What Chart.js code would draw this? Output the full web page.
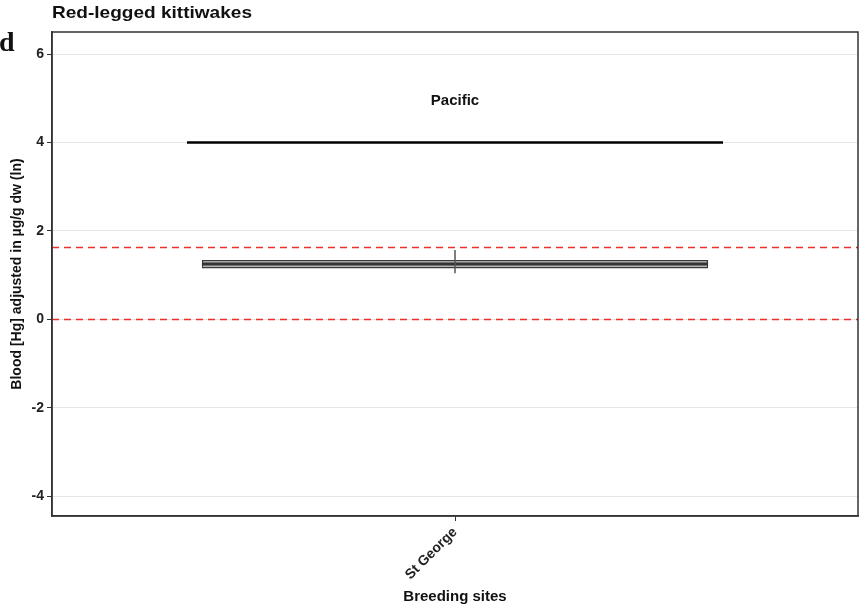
<!DOCTYPE html>
<html>
<head>
<meta charset="utf-8">
<script src="https://cdn.jsdelivr.net/npm/chart.js@4"></script>
<style>
  body { margin: 0; background: #fff; }
  canvas { display: block; }
</style>
</head>
<body>
<canvas id="myChart" width="866" height="604"></canvas>
<script>
const sites = ["St George"];
const boxLow = [1.15];
const boxHigh = [1.34];
const medians = [1.25];
const whiskerLow = [1.04];
const whiskerHigh = [1.57];
const refLines = [0, 1.63];
const regionLabel = "Pacific";
const regionLineY = 4;
const regionLabelY = 4.95;
const yTicks = [-4, -2, 0, 2, 4, 6];

const ctx = document.getElementById("myChart");
const font = "Arial, 'Liberation Sans', sans-serif";

const boxExtras = {
	id: "boxExtras",
	beforeDatasetsDraw(chart) {
		const c = chart.ctx;
		const y = chart.scales.y;
		const area = chart.chartArea;
		c.save();
		// dashed reference lines
		c.strokeStyle = "#e8302e";
		c.lineWidth = 1.6;
		c.setLineDash([7, 5]);
		refLines.forEach((v) => {
			const py = Math.round(y.getPixelForValue(v)) + 0.5;
			c.beginPath();
			c.moveTo(area.left, py);
			c.lineTo(area.right, py);
			c.stroke();
		});
		c.restore();
	},
	afterDatasetsDraw(chart) {
		const c = chart.ctx;
		const x = chart.scales.x;
		const y = chart.scales.y;
		const area = chart.chartArea;
		c.save();
		const meta = chart.getDatasetMeta(0);
		meta.data.forEach((bar, i) => {
			const half = bar.width / 2;
			const py = y.getPixelForValue(medians[i]);
			c.strokeStyle = "#333";
			c.lineWidth = 3;
			c.beginPath();
			c.moveTo(bar.x - half, py);
			c.lineTo(bar.x + half, py);
			c.stroke();
			c.strokeStyle = "#555";
			c.lineWidth = 1.5;
			c.beginPath();
			c.moveTo(bar.x, y.getPixelForValue(whiskerHigh[i]));
			c.lineTo(bar.x, y.getPixelForValue(whiskerLow[i]));
			c.stroke();
		});
		// region bracket + label
		const cw = area.right - area.left;
		const cx = x.getPixelForValue(0);
		const ly = y.getPixelForValue(regionLineY);
		c.strokeStyle = "#000";
		c.lineWidth = 2.5;
		c.beginPath();
		c.moveTo(cx - cw * 0.3325, ly);
		c.lineTo(cx + cw * 0.3325, ly);
		c.stroke();
		c.fillStyle = "#111";
		c.font = "bold 15px " + font;
		c.textAlign = "center";
		c.textBaseline = "middle";
		c.fillText(regionLabel, cx, y.getPixelForValue(regionLabelY));
		// panel border
		c.strokeStyle = "#333";
		c.lineWidth = 1.5;
		c.strokeRect(area.left, area.top, cw, area.bottom - area.top);
		c.restore();
	},
	afterDraw(chart) {
		const c = chart.ctx;
		c.save();
		c.fillStyle = "#111";
		c.textAlign = "left";
		c.textBaseline = "middle";
		c.translate(52, 13);
		c.scale(1.12, 1);
		c.font = "bold 17px " + font;
		c.fillText("Red-legged kittiwakes", 0, 0);
		c.restore();
		c.save();
		c.fillStyle = "#111";
		c.font = "bold 28px 'Liberation Serif', 'DejaVu Serif', serif";
		c.textBaseline = "alphabetic";
		c.fillText("d", -1, 51);
		c.restore();
	},
};

new Chart(ctx, {
	type: "bar",
	data: {
		labels: sites,
		datasets: [
			{
				data: sites.map((s, i) => [boxLow[i], boxHigh[i]]),
				backgroundColor: "#b4b4b4",
				borderColor: "#3a3a3a",
				borderWidth: 1.5,
				borderSkipped: false,
				barPercentage: 0.628,
				categoryPercentage: 1,
			},
		],
	},
	options: {
		responsive: false,
		animation: false,
		layout: { padding: { top: 32, right: 8, left: 0, bottom: 0 } },
		plugins: {
			legend: { display: false },
			tooltip: { enabled: false },
		},
		scales: {
			x: {
				grid: { display: true, drawOnChartArea: false, offset: false, tickLength: 5, tickColor: "#333" },
				border: { color: "#333", width: 1.5 },
				ticks: {
					minRotation: 45,
					maxRotation: 45,
					color: "#222",
					font: { family: font, size: 14, weight: "bold" },
				},
				title: {
					display: true,
					text: "Breeding sites",
					color: "#111",
					font: { family: font, size: 15, weight: "bold", lineHeight: 1 },
					padding: { top: 0, bottom: 0 },
				},
				afterFit(scale) {
					scale.height = 88;
				},
			},
			y: {
				min: -4.45,
				max: 6.5,
				afterBuildTicks(scale) {
					scale.ticks = yTicks.map((v) => ({ value: v }));
				},
				grid: { color: "#e6e6e6", lineWidth: 1, tickLength: 5, tickColor: "#333" },
				border: { color: "#333", width: 1.5 },
				ticks: {
					color: "#222",
					padding: 3,
					font: { family: font, size: 14, weight: "bold" },
				},
				title: {
					display: true,
					text: "Blood [Hg] adjusted in µg/g dw (ln)",
					color: "#111",
					font: { family: font, size: 14, weight: "bold" },
					padding: { top: 9, bottom: 4 },
				},
				afterFit(scale) {
					scale.width = 52;
				},
			},
		},
	},
	plugins: [boxExtras],
});
</script>
</body>
</html>
